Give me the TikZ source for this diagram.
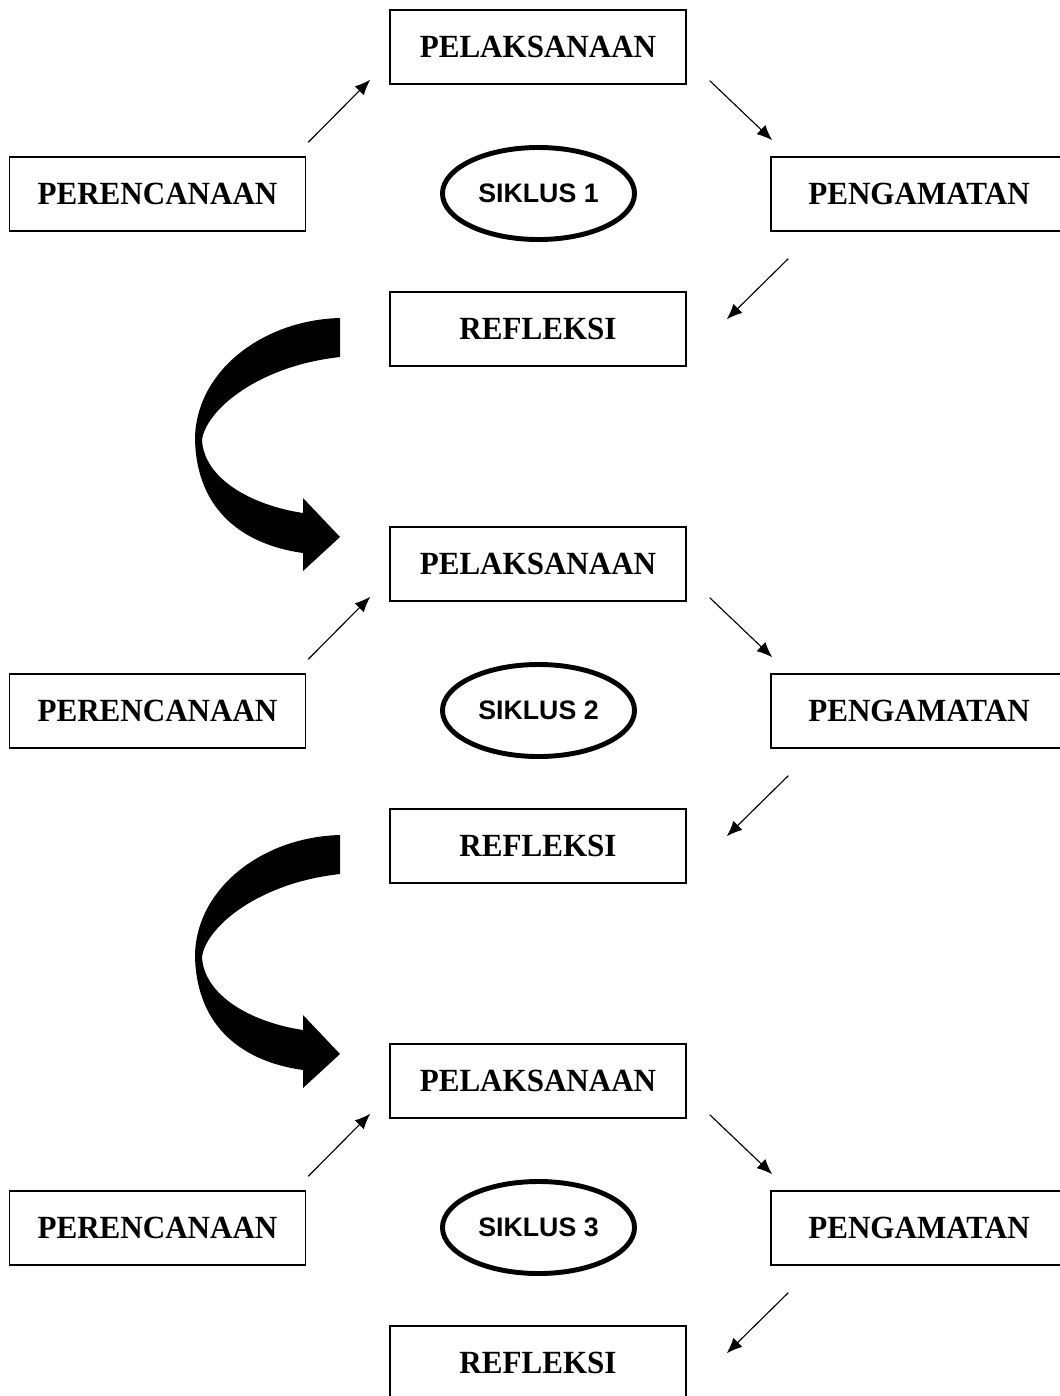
\documentclass[tikz,border=0pt]{standalone}
\usepackage{fontspec}
\setmainfont{Liberation Serif}
\newfontfamily\tahapfont[FakeStretch=0.96]{Liberation Serif}
\newfontfamily\siklusfont{Liberation Sans}
\usetikzlibrary{calc,shapes.geometric,arrows.meta}

\tikzset{
  tahap/.style={draw, line width=1pt, minimum width=7.4cm, minimum height=1.85cm,
    font=\tahapfont\bfseries\fontsize{23}{27}\selectfont},
  siklus/.style={ellipse, draw, line width=3.5pt, minimum width=4.8cm, minimum height=2.3cm,
    font=\siklusfont\bfseries\fontsize{19}{22}\selectfont},
  panah/.style={line width=0.8pt, -{Latex[length=11pt,width=9pt]}}
}

\begin{document}
\begin{tikzpicture}[x=0.025cm, y=-0.025cm]
  \clip (0,0) rectangle (1060,1396);% page = 1060 x 1396
  \fill[white] (0,0) rectangle (1060,1396);
\foreach \i/\dy in {1/0,2/517,3/1034}{% one cycle per row block
  \begin{scope}[shift={(0,\dy)}]
    \node[tahap] (pel\i) at (538,47) {PELAKSANAAN};
    \node[tahap] (ren\i) at (157.5,194) {PERENCANAAN};
    \node[tahap] (amat\i) at (919,194) {PENGAMATAN};
    \node[tahap] (ref\i) at (538,329) {REFLEKSI};
    \node[siklus] (sik\i) at (538.5,193.5) {SIKLUS \i};
    \draw[panah] ([shift={(2,-14)}]ren\i.north east) -- ([shift={(-19,-5)}]pel\i.south west);
    \draw[panah] ([shift={(23,-4)}]pel\i.south east) -- ([shift={(2,-16)}]amat\i.north west);
    \draw[panah] ([shift={(18,27)}]amat\i.south west) -- ([shift={(40,28)}]ref\i.north east);
  \end{scope}}
\foreach \dy in {0,517}{% big curved arrow to the next cycle
  \fill[black, shift={(0,\dy)}] (340,318)
     .. controls (262,320) and (195,372) .. (195,440)
     .. controls (197,512) and (245,545) .. (303,553)
     -- (303,571) -- (340,537) -- (303,498) -- (303,513)
     .. controls (250,505) and (204,478) .. (202,440)
     .. controls (206,410) and (258,366) .. (340,357) -- cycle;}
\end{tikzpicture}
\end{document}
